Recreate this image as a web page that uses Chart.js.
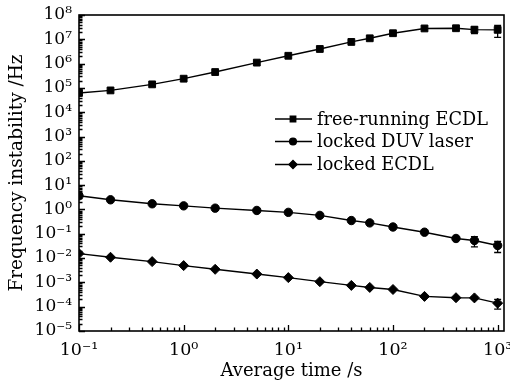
<!DOCTYPE html>
<html>
<head>
<meta charset="utf-8">
<script src="https://cdn.jsdelivr.net/npm/chart.js@4.4.1/dist/chart.umd.min.js"></script>
<style>
html,body{margin:0;padding:0;background:#fff;}
#wrap{width:510px;height:386px;position:relative;}
</style>
</head>
<body>
<div id="wrap"><canvas id="c" width="510" height="386"></canvas></div>
<script>
// ---- data ----
const tau = [0.1, 0.2, 0.5, 1, 2, 5, 10, 20, 40, 60, 100, 200, 400, 600, 1000];
const freeRunningECDL = [6.2e4, 7.9e4, 1.4e5, 2.4e5, 4.5e5, 1.1e6, 2.1e6, 4.0e6, 7.8e6, 1.1e7, 1.78e7, 2.8e7, 2.85e7, 2.5e7, 2.45e7];
const lockedDUV = [3.66, 2.5, 1.71, 1.41, 1.13, 0.91, 0.76, 0.57, 0.35, 0.28, 0.19, 0.116, 0.064, 0.053, 0.033];
const lockedECDL = [0.0153, 0.0108, 0.00716, 0.0049, 0.00345, 0.0022, 0.00157, 0.00107, 7.5e-4, 6.2e-4, 5.1e-4, 2.65e-4, 2.34e-4, 2.3e-4, 1.4e-4];
const freeRunningErr = [0, 0, 0, 0, 0, 0, 0, 0, 0, 0, 0, 0, 0, 7.7e6, 1.24e7];
const lockedDUVErr = [0, 0, 0, 0, 0, 0, 0, 0, 0, 0, 0, 0, 0, 0.024, 0.016];
const lockedECDLErr = [0, 0, 0, 0, 0, 0, 0, 0, 0, 0, 0, 0, 0, 3e-5, 6.1e-5];
const seriesNames = ['free-running ECDL', 'locked DUV laser', 'locked ECDL'];
const xTickValues = [0.1, 1, 10, 100, 1000];
const xTickLabels = ['10⁻¹', '10⁰', '10¹', '10²', '10³'];
const yTickValues = [1e-5, 1e-4, 1e-3, 1e-2, 1e-1, 1, 10, 100, 1e3, 1e4, 1e5, 1e6, 1e7, 1e8];
const yTickLabels = ['10⁻⁵', '10⁻⁴', '10⁻³', '10⁻²', '10⁻¹', '10⁰', '10¹', '10²', '10³', '10⁴', '10⁵', '10⁶', '10⁷', '10⁸'];
const xTitle = 'Average time /s';
const yTitle = 'Frequency instability /Hz';

const FONT = "'DejaVu Serif', serif";
Chart.defaults.font.family = FONT;
Chart.defaults.color = '#000';

const styles = [
  {pointStyle: 'rect', radius: 4.8},
  {pointStyle: 'circle', radius: 4.2},
  {pointStyle: 'rectRot', radius: 5}
];
const seriesData = [freeRunningECDL, lockedDUV, lockedECDL];
const seriesErr = [freeRunningErr, lockedDUVErr, lockedECDLErr];

function minorValues(min, max) {
  const out = [];
  for (let e = Math.floor(Math.log10(min)); e <= Math.ceil(Math.log10(max)); e++) {
    for (let m = 1; m <= 9; m++) {
      const v = m * Math.pow(10, e);
      if (v >= min * 0.9999 && v <= max * 1.0001) out.push({v, major: m === 1});
    }
  }
  return out;
}

const framePlugin = {
  id: 'frameTicks',
  beforeDatasetsDraw(chart) {
    const ctx = chart.ctx;
    const xs = chart.scales.x, ys = chart.scales.y;
    ctx.save();
    ctx.strokeStyle = '#000';
    ctx.lineWidth = 1.3;
    seriesErr.forEach((errs, si) => {
      errs.forEach((e, i) => {
        if (!e) return;
        const v = seriesData[si][i];
        const x = xs.getPixelForValue(tau[i]);
        const yTop = ys.getPixelForValue(v + e);
        const yBot = ys.getPixelForValue(v - e);
        ctx.beginPath();
        ctx.moveTo(x, yTop); ctx.lineTo(x, yBot);
        ctx.moveTo(x - 3.5, yTop); ctx.lineTo(x + 3.5, yTop);
        ctx.moveTo(x - 3.5, yBot); ctx.lineTo(x + 3.5, yBot);
        ctx.stroke();
      });
    });
    ctx.restore();
  },
  afterDatasetsDraw(chart) {
    const ctx = chart.ctx;
    const a = chart.chartArea;
    const xs = chart.scales.x, ys = chart.scales.y;
    ctx.save();
    ctx.strokeStyle = '#000';
    ctx.lineWidth = 1.6;
    ctx.strokeRect(a.left, a.top, a.right - a.left, a.bottom - a.top);
    ctx.lineWidth = 1.3;
    ctx.beginPath();
    minorValues(xs.min, xs.max).forEach(t => {
      const x = Math.round(xs.getPixelForValue(t.v)) + 0.5;
      const len = t.major ? 6 : 3.5;
      ctx.moveTo(x, a.bottom); ctx.lineTo(x, a.bottom - len);
    });
    minorValues(ys.min, ys.max).forEach(t => {
      const y = Math.round(ys.getPixelForValue(t.v)) + 0.5;
      const len = t.major ? 6 : 3.5;
      ctx.moveTo(a.left, y); ctx.lineTo(a.left + len, y);
    });
    ctx.stroke();
    ctx.restore();
  },
  afterDraw(chart) {
    const ctx = chart.ctx;
    const a = chart.chartArea;
    ctx.save();
    ctx.font = '17.7px ' + FONT;
    ctx.fillStyle = '#000';
    ctx.strokeStyle = '#000';
    ctx.textBaseline = 'middle';
    const x0 = a.left + 196, x1 = a.left + 233, mx = a.left + 214, tx = a.left + 238;
    const rowY = [a.top + 104, a.top + 126.5, a.top + 149.5];
    seriesNames.forEach((name, i) => {
      const y = rowY[i];
      ctx.lineWidth = 1.4;
      ctx.beginPath(); ctx.moveTo(x0, y); ctx.lineTo(x1, y); ctx.stroke();
      Chart.helpers.drawPoint(ctx, {pointStyle: styles[i].pointStyle, radius: styles[i].radius * 0.8, rotation: 0, borderWidth: 1}, mx, y);
      ctx.fill();
      ctx.fillText(name, tx, y + 1);
    });
    ctx.restore();
  }
};

const datasets = seriesNames.map((name, i) => ({
  label: name,
  data: tau.map((t, j) => ({x: t, y: seriesData[i][j]})),
  borderColor: '#000',
  backgroundColor: '#000',
  borderWidth: 1.4,
  pointStyle: styles[i].pointStyle,
  pointRadius: styles[i].radius,
  pointBorderWidth: 1,
  pointBackgroundColor: '#000',
  pointBorderColor: '#000',
  tension: 0
}));

new Chart(document.getElementById('c'), {
  type: 'line',
  data: {datasets},
  options: {
    responsive: false,
    animation: false,
    layout: {padding: {top: 15, right: 5, left: 0, bottom: 0}},
    plugins: {legend: {display: false}, tooltip: {enabled: false}},
    scales: {
      x: {
        type: 'logarithmic',
        min: 0.1,
        max: 1150,
        grid: {display: false, drawTicks: false},
        border: {display: false},
        afterBuildTicks(scale) { scale.ticks = xTickValues.map(v => ({value: v, major: true})); },
        afterFit(scale) { scale.height = 55; scale.paddingRight = 0; scale.paddingLeft = 0; },
        ticks: {
          autoSkip: false, maxRotation: 0, padding: 9,
          font: {size: 17.5, family: FONT},
          callback: (v, i) => xTickLabels[i]
        },
        title: {display: true, text: xTitle, font: {size: 18, family: FONT}, padding: {top: 0, bottom: 4}}
      },
      y: {
        type: 'logarithmic',
        min: 1e-5,
        max: 1e8,
        grid: {display: false, drawTicks: false},
        border: {display: false},
        afterBuildTicks(scale) { scale.ticks = yTickValues.map(v => ({value: v, major: true})); },
        afterFit(scale) { scale.width = 79; scale.paddingTop = 0; scale.paddingBottom = 0; },
        ticks: {
          autoSkip: false, padding: 7,
          font: {size: 17, family: FONT},
          callback: (v, i) => yTickLabels[i]
        },
        title: {display: true, text: yTitle, font: {size: 18.5, family: FONT}, padding: {top: 6, bottom: 0}}
      }
    }
  },
  plugins: [framePlugin]
});
</script>
</body>
</html>
